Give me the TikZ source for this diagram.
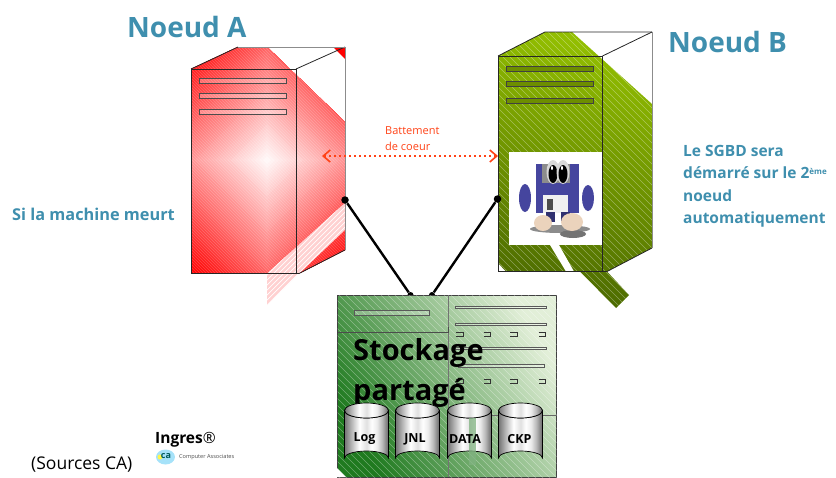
\documentclass[tikz,border=0pt]{standalone}
\usepackage{fontspec}
\setmainfont{Open Sans}
\usetikzlibrary{arrows.meta}
\definecolor{titleblue}{HTML}{3F8FAE}
\definecolor{beatred}{HTML}{FF4216}
\definecolor{limedark}{HTML}{4C6A00}
\definecolor{limelight}{HTML}{92BE00}
\definecolor{diskblue}{HTML}{45459E}
\definecolor{shoe}{HTML}{EBD3BC}
\definecolor{storedark}{HTML}{1F7A1F}
\definecolor{storemid}{HTML}{8FBE8F}
\definecolor{storelight}{HTML}{E2EFD8}
\pgfdeclarehorizontalshading{steel}{100bp}{color(0bp)=(black!55); color(25bp)=(black!55);
  color(34bp)=(black!25); color(42bp)=(white); color(50bp)=(black!12); color(56bp)=(white);
  color(62bp)=(black!8); color(68bp)=(black!28); color(75bp)=(black!60); color(100bp)=(black!60)}
\tikzset{
  title/.style={text=titleblue, font=\fontsize{28}{30}\selectfont\bfseries, anchor=base west, inner sep=0pt},
  note/.style={text=titleblue, font=\fontsize{15.5}{22.3}\selectfont\bfseries, anchor=north west, align=left, inner sep=0pt},
  dot/.style={circle, fill=black, inner sep=0pt, minimum size=7.5pt},
  wire/.style={line width=2.4pt},
  edge/.style={black!85, line width=0.8pt},
  backedge/.style={black!45, line width=1pt},
  barA/.style={draw=black!70, line width=0.8pt, fill=white, fill opacity=0.25},
  barB/.style={draw=black!75, line width=1pt, fill=limelight!75!black},
  barS/.style={draw=black!65, line width=0.9pt, fill=white, fill opacity=0.3},
  hatchline/.style={white, line width=0.45pt, opacity=0.35},
  bracket/.style={black!80, line width=0.6pt},
  disklabel/.style={font=\fontsize{12.5}{13}\selectfont\bfseries, inner sep=0pt},
}
% one little bracket
\newcommand{\bracketat}[2]{\draw[bracket] (#1,#2) -- ++(7,0) -- ++(0,4) -- ++(-7,0);}
% a disk
\newcommand{\diskat}[1]{
  \shade[shading=steel, draw=black, line width=0.7pt] (#1-22,410.5) -- (#1-22,458)
    arc[start angle=180, end angle=360, x radius=22, y radius=7] -- (#1+22,410.5)
    arc[start angle=0, end angle=180, x radius=22, y radius=7.5] -- cycle;
  \shade[shading=steel, draw=black, line width=0.7pt] (#1,410.5) ellipse (22 and 7.5);
}
\begin{document}
\begin{tikzpicture}[x=1pt, y=-1pt]
  \useasboundingbox (0,0) rectangle (836,477);

  % Node A, gradient from the centre
  \begin{scope}
    \clip (191,69) -- (238,47) -- (267,47) -- (345,122) -- (345,250) -- (299,273.5) -- (191,273.5) -- cycle;
    \foreach \r in {192,188,...,2} {
      \pgfmathtruncatemacro{\pp}{max(0,100-\r/1.9)}
      \fill[white!\pp!red] (267-\r,160) -- (267,160-\r) -- (267+\r,160) -- (267,160+\r) -- cycle;
    }
    \foreach \k in {-100,-97,...,360} \draw[white, line width=0.5pt, opacity=0.2] (\k,0) -- ++(300,300);
  \end{scope}
  \fill[red] (333,47) -- (345,47) -- (345,59) -- cycle;
  % pale stripe and its tail
  \fill[red!18] (267,273.5) -- (345,203) -- (345,230) -- (299,273.5) -- (267,305) -- cycle;
  \begin{scope}
    \clip (267,273.5) -- (345,203) -- (345,230) -- (267,305) -- cycle;
    \foreach \k in {-60,-55,...,130} \draw[white, line width=0.7pt] (267,\k+200) -- ++(80,-80);
  \end{scope}
  \foreach \y in {78,93,109} \filldraw[barA] (199,\y) rectangle (286,\y+5);
  \draw[edge] (191,69) rectangle (296,273.5);
  \draw[edge] (191,69) -- (238,47);
  \draw[edge] (296,69) -- (345,47);
  \draw[edge] (296,273.5) -- (299,273.5) -- (345,250);
  \draw[backedge] (238,47) -- (345,47) -- (345,250);

  % Node B, gradient from below
  \shade[bottom color=limedark, top color=limelight, shading angle=-15]
    (498,56) -- (545,32) -- (572,32) -- (652,104) -- (652,248) -- (607,271.5) -- (629,295) -- (616,308)
    -- (580,271.5) -- (506,271.5) -- (498,263) -- cycle;
  \begin{scope}
    \clip (498,56) -- (545,32) -- (572,32) -- (652,104) -- (652,248) -- (607,271.5) -- (629,295) -- (616,308)
    -- (580,271.5) -- (506,271.5) -- (498,263) -- cycle;
    \foreach \k in {-100,-93,...,620} \draw[hatchline] (\k,0) -- ++(330,330);
  \end{scope}
  \fill[white] (550,245) -- (559,245) -- (574,271.5) -- (566,271.5) -- cycle;
  \foreach \y in {66,81.5,98} \filldraw[barB] (506,\y) rectangle (593,\y+5);
  \draw[edge] (498,56) rectangle (602.5,271.5);
  \draw[edge] (498,56) -- (545,32) -- (652,32);
  \draw[edge] (602.5,56) -- (652,32);
  \draw[edge] (602.5,271.5) -- (607,271.5) -- (652,248);
  \draw[backedge] (652,32) -- (652,248);

  % Floppy
  \fill[white] (509,152) rectangle (602,245);
  \fill[black!45] (560,229) ellipse (30 and 4);
  \fill[black!55] (573,234) ellipse (13 and 4);
  \fill[diskblue] (535.5,164) rectangle (579,213);
  \fill[black!45] (542,164) rectangle (570,183);
  \fill[black!6] (543,195) rectangle (568,213);
  \fill[black!70] (547,199) rectangle (553,210);
  \fill[diskblue!70!black] (546,212) rectangle (555,222);
  \fill[diskblue!70!black] (561,212) rectangle (570,222);
  \fill[diskblue] (525,198) ellipse (6 and 14);
  \fill[diskblue] (588,198) ellipse (6 and 13);
  \fill[shoe] (543,223) ellipse (9 and 8);
  \fill[shoe] (572,222) ellipse (11 and 9);
  \foreach \x in {553,563} {
    \fill[black!15] (\x,172) ellipse (6.5 and 12);
    \fill[black] (\x,174) ellipse (4.5 and 9);
    \fill[white] (\x-1,168) ellipse (1 and 2);
  }

  % Links to the storage
  \node[dot] (linkA) at (345,200) {};
  \node[dot] (linkB) at (497.5,199) {};
  \node[dot, minimum size=6pt] (portA) at (410.5,295) {};
  \node[dot, minimum size=6pt] (portB) at (432,295) {};
  \draw[wire] (linkA) -- (portA);
  \draw[wire] (linkB) -- (portB);

  % Storage
  \shade[bottom color=storedark, middle color=storemid, top color=storelight, shading angle=-60, draw=black!75, line width=0.8pt]
    (337.5,295) rectangle (556.5,477);
  \begin{scope}
    \clip (337.5,295) rectangle (556.5,477);
    \foreach \k in {-200,-193,...,560} \draw[hatchline] (\k,295) -- ++(200,200);
  \end{scope}
  \fill[white] (337,468) -- (346,477) -- (337,477) -- cycle;
  \draw[black!55, line width=1.2pt] (448.5,295) -- (448.5,477);
  \draw[black!70, line width=0.8pt] (337.5,332) -- (448.5,332) -- (448.5,327);
  \draw[black!60, line width=0.8pt] (448.5,415) -- (556.5,415);
  \filldraw[barS] (354,310) rectangle (429,315.5);
  \foreach \y in {306,323,347} \filldraw[barS] (455,\y) rectangle (546,\y+2.5);
  \filldraw[barS] (458,364.5) rectangle (544,367);
  \foreach \y in {332,379} {
    \foreach \x in {456,483.5,510,538.5} {
      \bracketat{\x}{\y}
    }
  }

  \node[font=\fontsize{29}{40}\selectfont\bfseries, anchor=north west, align=left, inner sep=0pt] (stock) at (353,338) {Stockage\\partagé};

  \foreach \x in {366.5,417.5,469.5,520.5} {
    \diskat{\x}
  }
  \fill[green!40!black!50!white, opacity=0.75] (469,418) rectangle (476,465);
  \foreach \x/\nm/\lab in {364.5/diskLog/Log,415/diskJnl/JNL,465/diskData/DATA,519.5/diskCkp/CKP} {
    \node[disklabel] (\nm) at (\x,439) {\lab};
  }

  % Heartbeat
  \coordinate (beatA) at (322,156);
  \coordinate (beatB) at (498,156);
  \draw[beatred, line width=2.4pt, dash pattern=on 2.4pt off 2.6pt, {Straight Barb[length=7pt,width=12pt,line width=1.6pt]}-{Straight Barb[length=7pt,width=12pt,line width=1.6pt]}] (beatA) -- (beatB);
  \node[text=beatred, font=\fontsize{11}{16}\selectfont, anchor=north west, align=left, inner sep=0pt] (beat) at (385,126.5) {Battement\\de coeur};

  % Titles and notes
  \node[title] (nodeA) at (127,37) {Noeud A};
  \node[title] (nodeB) at (668,52) {Noeud B};
  \node[note, anchor=base west, font=\fontsize{16.3}{20}\selectfont\bfseries] (dies) at (12,220) {Si la machine meurt};
  \node[note] (start) at (683,145) {Le SGBD sera\\démarré sur le 2\raisebox{4pt}{\fontsize{8}{8}\selectfont ème}\\noeud\\automatiquement};

  % Sources and logos
  \node[font=\fontsize{17.5}{18}\selectfont, anchor=base west, inner sep=0pt] (sources) at (31,469) {(Sources CA)};
  \node[font=\fontsize{15.5}{16}\selectfont\bfseries, anchor=base west, inner sep=0pt] (ingres) at (155,443) {Ingres\textnormal{®}};
  \fill[cyan!35] (165.5,457) ellipse (9.5 and 7.5);
  \fill[yellow!70!white] (160,457) circle (2.5);
  \node[font=\fontsize{9}{10}\selectfont\bfseries, text=teal!70!black, inner sep=0pt] (calogo) at (166,456.5) {ca};
  \node[font=\fontsize{5.6}{6}\selectfont, text=black!70, anchor=west, inner sep=0pt] (catext) at (179,457) {Computer Associates};
\end{tikzpicture}
\end{document}
